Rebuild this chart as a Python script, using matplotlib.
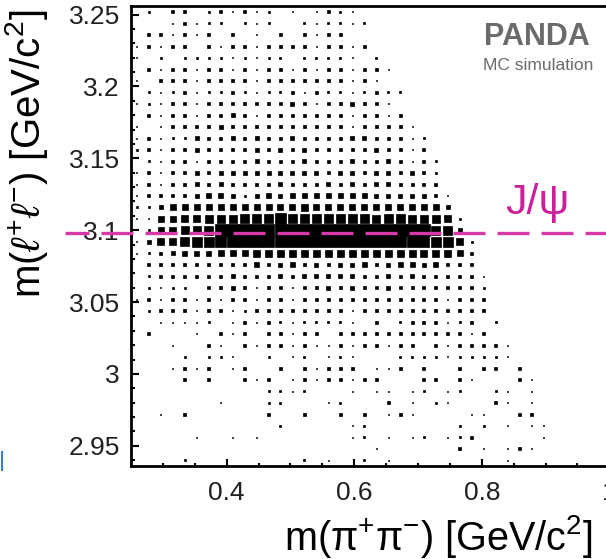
import numpy as np
import matplotlib
matplotlib.use("Agg")
import matplotlib.pyplot as plt
from matplotlib.ticker import MultipleLocator, FuncFormatter
from matplotlib.lines import Line2D

plt.rcParams['font.family'] = ['Liberation Sans', 'DejaVu Sans']
plt.rcParams['mathtext.fontset'] = 'custom'
plt.rcParams['mathtext.rm'] = 'Liberation Sans'
plt.rcParams['mathtext.it'] = 'Liberation Sans:italic'
plt.rcParams['lines.scale_dashes'] = False

# binning: m(pi+pi-) on x, m(l+l-) on y
mpipi_lo, mpipi_width = 0.25, 0.01875
mll_lo, mll_width = 2.936, 0.008

# bin contents, one string per m(l+l-) bin from the top (3.252) down to 2.940,
# one hex digit per m(pi+pi-) bin from 0.259 upwards (c = maximum)
counts_rows = [
    "02033 02313 12010 13210 00000 00000 00000",
    "00013 12202 12002 12212 00000 00000 00000",
    "03313 13030 10303 13300 00000 00000 00000",
    "13133 03133 13333 13313 00000 00000 00000",
    "10202 22212 12202 22210 20000 00000 00000",
    "03133 13313 13313 13313 31000 00000 00000",
    "10333 13333 13333 33313 10000 00000 00000",
    "02123 12232 12231 32212 32200 00000 00000",
    "12133 13333 33343 13343 31000 00000 00000",
    "03133 13343 13333 33313 31300 00000 00000",
    "10133 33433 33333 33313 33310 00000 00000",
    "13122 43343 43343 33344 33312 00000 00000",
    "23133 43333 43434 33333 43313 00000 00000",
    "02133 13333 43334 33343 34313 20000 00000",
    "13133 43444 44444 43443 44343 20000 00000",
    "13133 43433 33433 34343 44333 30000 00000",
    "13333 45542 45455 55555 44444 31000 00000",
    "22466 66666 66667 66666 66666 64000 00000",
    "11667 78889 99c99 99999 89988 87200 00000",
    "02678 89ccc ccccc ccccc ccccc 99400 00000",
    "14779 aabcc ccccc ccccc cccbb aa720 00000",
    "12345 55666 77777 77777 77777 77630 00000",
    "03333 33333 53453 43445 34554 53330 00000",
    "02333 33343 33434 44443 34343 33331 00000",
    "02122 03343 13313 34343 34333 33332 00000",
    "13133 13133 13313 33333 33333 31333 00000",
    "02333 13312 33333 33313 33333 33333 00000",
    "00111 12013 13212 22210 30233 31230 20000",
    "03000 10313 03313 30333 33333 33313 00000",
    "00010 03103 13313 11313 31330 31333 31000",
    "00002 02210 02012 01210 00222 21222 21000",
    "00013 13013 00303 13330 11303 00303 30300",
    "00003 03003 13013 13313 30003 30310 00310",
    "00000 00000 02212 00010 11012 01200 21010",
    "00000 00100 02200 01200 03010 21000 31010",
    "00103 00000 03003 00303 01310 00011 00330",
    "00000 00000 00200 00012 00000 00202 01011",
    "00000 10010 10000 00012 01012 01230 00001",
    "00000 00000 00000 00000 10000 00301 01310",
    "00002 00000 00002 01002 01000 00000 01000",
]

jpsi_mass = 3.098

counts = np.array([[int(ch, 16) for ch in row.replace(" ", "")]
                   for row in counts_rows])[::-1]
ny, nx = counts.shape
xc = mpipi_lo + mpipi_width * (np.arange(nx) + 0.5)
yc = mll_lo + mll_width * (np.arange(ny) + 0.5)
X, Y = np.meshgrid(xc, yc)
frac = counts / counts.max()
filled = counts > 0

fig = plt.figure(figsize=(6.06, 5.59), dpi=100)
W, H = 606, 559
ax = fig.add_axes([131 / W, 93 / H, 574 / W, 460 / H])

# box plot: box side scales with the bin content
ax.bar(X[filled], frac[filled] * mll_width, width=frac[filled] * mpipi_width,
       bottom=Y[filled] - frac[filled] * mll_width / 2, align='center',
       color='black', edgecolor='black', linewidth=0.5, zorder=2)

ax.set_xlim(0.25, 1.15)
ax.set_ylim(2.936, 3.256)

fmt = FuncFormatter(lambda v, pos: f"{round(v, 3):g}")
ax.xaxis.set_major_locator(MultipleLocator(0.2))
ax.xaxis.set_minor_locator(MultipleLocator(0.05))
ax.yaxis.set_major_locator(MultipleLocator(0.05))
ax.yaxis.set_minor_locator(MultipleLocator(0.01))
ax.xaxis.set_major_formatter(fmt)
ax.yaxis.set_major_formatter(fmt)

ax.tick_params(axis='both', which='both', direction='in', width=1.5,
               labelsize=19, labelcolor='#202020', top=False, right=False)
ax.tick_params(axis='x', which='major', length=5, pad=11)
ax.tick_params(axis='x', which='minor', length=2.5)
ax.tick_params(axis='y', which='major', length=5.5, pad=8)
ax.tick_params(axis='y', which='minor', length=3)
for side in ['left', 'bottom', 'top']:
    ax.spines[side].set_linewidth(2)
ax.spines['right'].set_visible(False)

# J/psi mass line
magenta = '#d63aa8'
ax.plot([0.1465, 1.15], [jpsi_mass, jpsi_mass], color=magenta, lw=2.4,
        linestyle=(5.76, (23.04, 8.64)), clip_on=False, zorder=5)
fig.text(537 / W, 1 - 214 / H, 'J/ψ', color='#cc1f9a', fontsize=31,
         ha='center', va='baseline')

fig.text(537 / W, 1 - 37 / H, 'PANDA', color='#6b6b6b', fontsize=22,
         fontweight='bold', ha='center', va='center')
fig.text(538 / W, 1 - 66 / H, 'MC simulation', color='#6b6b6b', fontsize=12.5,
         ha='center', va='center')

fig.text(593 / W, 1 - 536 / H, r'm(π$^{+}$π$^{-}$) [GeV/c$^{2}$]',
         fontsize=28.5, ha='right', va='center')
fig.text(27 / W, 1 - 10 / H, r'm($\ell^{+}\ell^{-}$) [GeV/c$^{2}$]',
         fontsize=29, rotation=90, ha='center', va='top')

fig.add_artist(Line2D([1.5 / W, 1.5 / W], [1 - 470 / H, 1 - 452 / H],
                      color='#3a7bd5', lw=1.5))

fig.savefig('out.png', dpi=100)
